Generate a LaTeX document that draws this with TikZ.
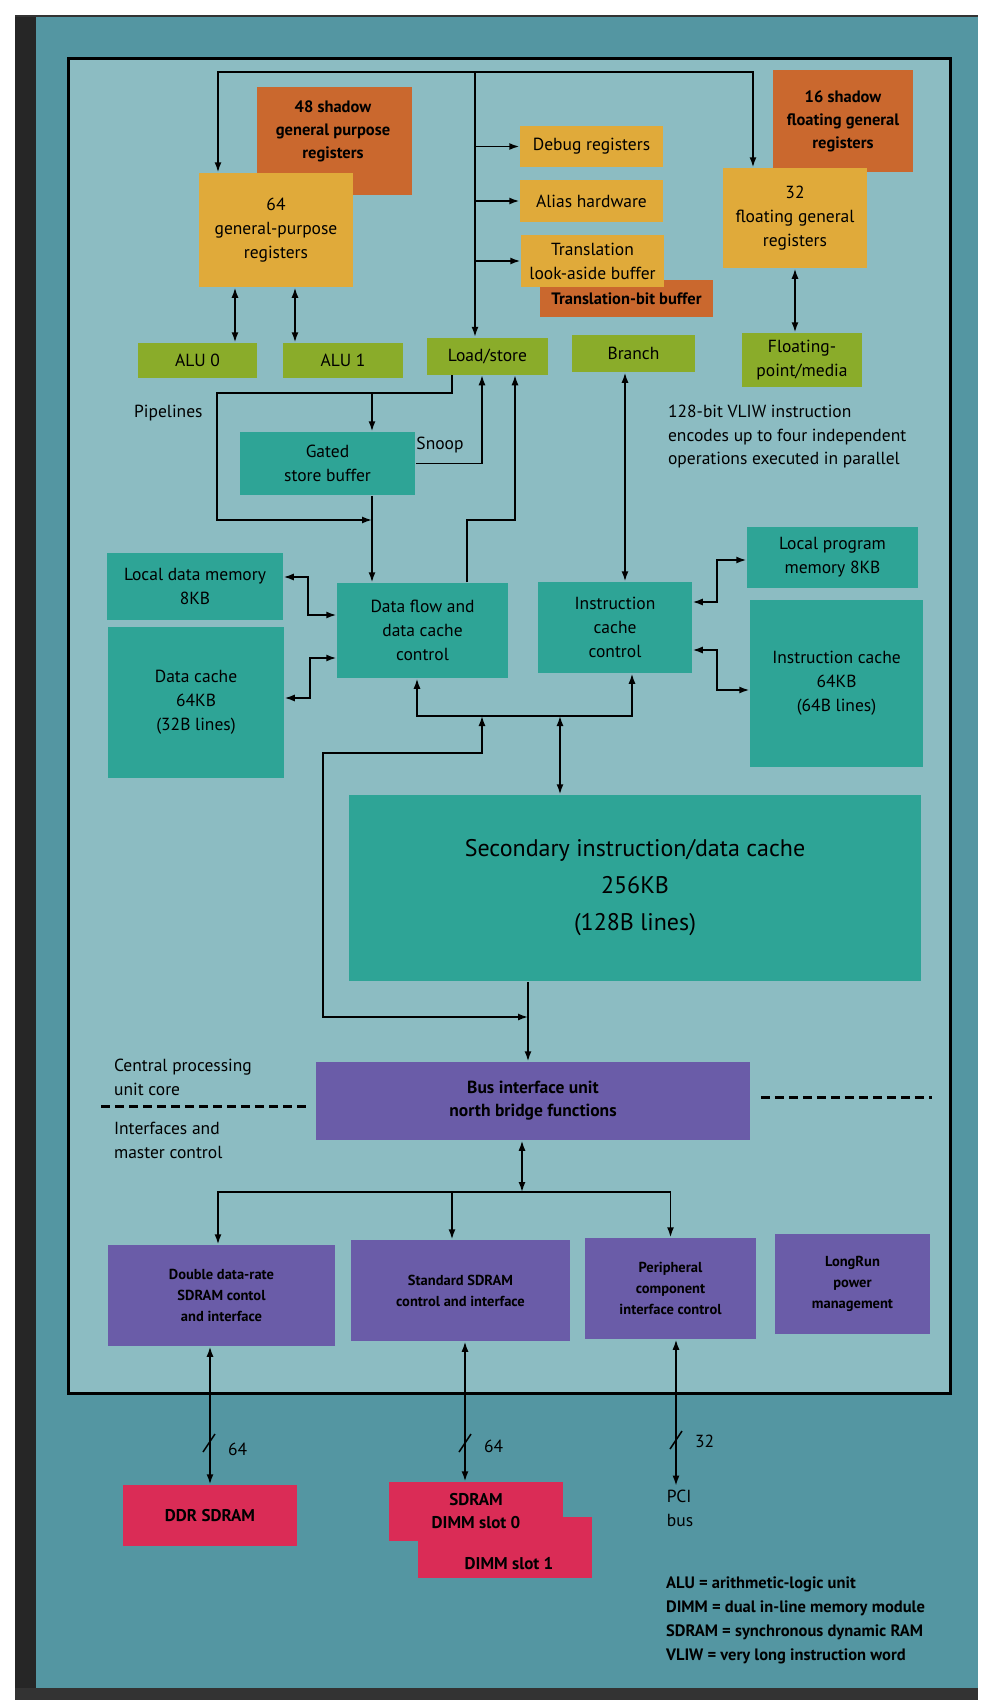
\documentclass[tikz,border=0pt]{standalone}
\usepackage{fontspec}
\setmainfont{PT Sans}
\usetikzlibrary{arrows.meta,calc}

\definecolor{pagebg}{RGB}{84,150,162}
\definecolor{corebg}{RGB}{140,188,194}
\definecolor{cachecol}{RGB}{46,164,150}
\definecolor{pipecol}{RGB}{138,172,42}
\definecolor{regcol}{RGB}{224,170,58}
\definecolor{shadowcol}{RGB}{202,104,46}
\definecolor{busifcol}{RGB}{106,92,168}
\definecolor{memcol}{RGB}{218,44,86}

\tikzset{
  sz/.style n args={2}{minimum width=#1pt, minimum height=#2pt},
  blk/.style={inner sep=0pt, align=center, font=\fontsize{17.5}{24}\selectfont},
  cachebox/.style={blk, fill=cachecol},
  pipebox/.style={blk, fill=pipecol},
  regbox/.style={blk, fill=regcol},
  shadowbox/.style={blk, fill=shadowcol, font=\fontsize{16.5}{23}\selectfont\bfseries},
  shadowtxt/.style={align=center, font=\fontsize{16.5}{23}\selectfont\bfseries},
  ifbox/.style={blk, fill=busifcol, font=\fontsize{14.5}{21}\selectfont\bfseries},
  membox/.style={blk, fill=memcol, font=\fontsize{17}{23}\selectfont\bfseries},
  memtxt/.style={font=\fontsize{17}{23}\selectfont\bfseries},
  note/.style={align=left, font=\fontsize{17.5}{24}\selectfont},
  divider/.style={line width=3pt, dash pattern=on 9pt off 5pt},
}

\begin{document}
\begin{tikzpicture}[x=1pt, y=-1pt, >={Latex[length=10pt,width=7pt]}, line width=1.5pt]
\useasboundingbox (0,0) rectangle (992,1700);

% page and core frame
\fill[white] (0,0) rectangle (992,1700);
\fill[pagebg] (15,15) rectangle (978,1700);
\fill[black!85] (15,15) rectangle (36,1700);
\fill[black!80] (15,1688) rectangle (978,1700);
\draw[black!80, line width=2pt] (15,16) -- (978,16);
\draw[line width=3pt, fill=corebg] (68,58) rectangle (950,1393);

% registers
\node[shadowbox, sz={155}{108}] (shgpr) at (334.5,141) {};
\node[shadowtxt] (shgprtxt) at (333,131) {48 shadow\\general purpose\\registers};
\node[regbox, sz={154}{114}] (gpr) at (276,230) {64\\general-purpose\\registers};
\node[shadowbox, sz={140}{102}] (shfgr) at (843,121) {16 shadow\\floating general\\registers};
\node[regbox, sz={144}{100}] (fgr) at (795,218) {32\\floating general\\registers};
\node[regbox, sz={143}{41}] (debug) at (591.5,146.5) {Debug registers};
\node[regbox, sz={143}{42}] (alias) at (591.5,201) {Alias hardware};
\node[shadowbox, sz={173}{37}, font=\fontsize{16.5}{22}\selectfont\bfseries] (tbb) at (626.5,298.5) {Translation-bit buffer};
\node[regbox, sz={143}{52}] (tlb) at (592.5,261) {Translation\\look-aside buffer};

% pipelines
\node[pipebox, sz={119}{35}] (alu0) at (197.5,360.5) {ALU 0};
\node[pipebox, sz={120}{35}] (alu1) at (343,360.5) {ALU 1};
\node[pipebox, sz={121}{37}] (ls) at (487.5,356) {Load/store};
\node[pipebox, sz={123}{37}] (branch) at (633.5,353.5) {Branch};
\node[pipebox, sz={120}{54}] (fpm) at (802,360) {Floating-\\point/media};

% caches
\node[cachebox, sz={175}{63}] (gsb) at (327.5,463.5) {Gated\\store buffer};
\node[cachebox, sz={171}{95}] (dflow) at (422.5,630.5) {Data flow and\\data cache\\control};
\node[cachebox, sz={154}{91}] (icc) at (615,627.5) {Instruction\\cache\\control};
\node[cachebox, sz={176}{67}] (ldm) at (195,586.5) {Local data memory\\8KB};
\node[cachebox, sz={176}{151}] (dc) at (196,702.5) {Data cache\\64KB\\(32B lines)};
\node[cachebox, sz={171}{61}] (lpm) at (832.5,557.5) {Local program\\memory 8KB};
\node[cachebox, sz={173}{167}] (ic) at (836.5,683.5) {Instruction cache\\64KB\\(64B lines)};
\node[cachebox, sz={572}{186}, font=\fontsize{24}{37}\selectfont] (l2) at (635,888) {Secondary instruction/data cache\\256KB\\(128B lines)};

% interfaces
\node[ifbox, sz={434}{78}, font=\fontsize{17.5}{23}\selectfont\bfseries] (biu) at (533,1101) {Bus interface unit\\north bridge functions};
\node[ifbox, sz={227}{101}] (ddrc) at (221.5,1295.5) {Double data-rate\\SDRAM contol\\and interface};
\node[ifbox, sz={219}{101}] (sdc) at (460.5,1290.5) {Standard SDRAM\\control and interface};
\node[ifbox, sz={171}{101}] (pcic) at (670.5,1288.5) {Peripheral\\component\\interface control};
\node[ifbox, sz={155}{100}] (lrun) at (852.5,1284) {LongRun\\power\\management};

% memory
\node[membox, sz={174}{61}] (ddr) at (210,1515.5) {DDR SDRAM};
\node[membox, sz={174}{61}] (dimm1) at (505,1547.5) {};
\node[membox, sz={174}{59}] (dimm0) at (476,1511.5) {SDRAM\\DIMM slot 0};
\node[memtxt] (dimm1txt) at (509,1564) {DIMM slot 1};

% top bus
\coordinate (bus) at (475,72);
\coordinate (busL) at (218,72);
\coordinate (busR) at (753,72);
\draw[<->] (busL |- gpr.north) -- (busL) -- (busR) -- (busR |- fgr.north);
\draw[->] (bus) -- (bus |- ls.north);
\draw[->] (bus |- debug.west) -- (debug.west);
\draw[->] (bus |- alias.west) -- (alias.west);
\draw[->] (bus |- tlb.west) -- (tlb.west);
\draw[<->] ([xshift=-41pt]gpr.south) -- ([xshift=-41pt]gpr.south |- alu0.north);
\draw[<->] ([xshift=19pt]gpr.south) -- ([xshift=19pt]gpr.south |- alu1.north);
\draw[<->] (fgr.south) -- (fgr.south |- fpm.north);

% load/store paths
\coordinate (plL) at (217,393);
\coordinate (plJ) at (372,520);
\draw[->] ([xshift=-35.5pt]ls.south) |- (plL) |- (plJ);
\draw[->] (plJ |- plL) -- (plJ |- gsb.north);
\draw[->] (plJ |- gsb.south) -- (plJ |- dflow.north);
\draw[->] (gsb.east) -| ([xshift=-5.5pt]ls.south);
\node[note] (snoop) at (440,445) {Snoop};
\coordinate (dfup) at (515,520);
\draw[->] ([xshift=44.5pt]dflow.north) |- (dfup) -- (dfup |- ls.south);
\draw[<->] ([xshift=-8.5pt]branch.south) -- ([xshift=-8.5pt]branch.south |- icc.north);

% local memories
\coordinate (dmx) at (308,596);
\draw[<->] ([yshift=9.5pt]ldm.east) -| (dmx) |- ([yshift=15.5pt]dflow.west);
\coordinate (dcx) at (310,678);
\draw[<->] ([yshift=-27.5pt]dflow.west) -| (dcx) |- ([yshift=4.5pt]dc.east);
\coordinate (pmx) at (717,580);
\draw[<->] ([yshift=25.5pt]icc.east) -| (pmx) |- ([yshift=-2.5pt]lpm.west);
\coordinate (icx) at (717,670);
\draw[<->] ([yshift=-22.5pt]icc.east) -| (icx) |- ([yshift=-6.5pt]ic.west);

% secondary cache
\coordinate (hb) at (560,716);
\draw[<->] ([xshift=-5.5pt]dflow.south) |- (hb) -| ([xshift=17pt]icc.south);
\draw[<->] (hb) -- (hb |- l2.north);
\coordinate (byT) at (482,753);
\coordinate (byB) at (323,1017);
\coordinate (l2out) at ([xshift=-107pt]l2.south);
\draw[<->] (byT |- hb) -- (byT) -| (byB) -- (byB -| l2out);
\draw[->] (l2out) -- (l2out |- biu.north);

% bus interface
\coordinate (iob) at (522,1192);
\draw[<->] (iob |- biu.south) -- (iob);
\draw[->] (iob) -| ([xshift=-3.5pt]ddrc.north);
\draw[->] (iob) -| ([xshift=-8.5pt]sdc.north);
\draw[->] (iob) -| (pcic.north);

\node[note] (pcibus) at (680,1508) {PCI\\bus};
\draw[<->] (ddr.north |- ddrc.south) -- (ddr.north);
\coordinate (sdw) at ([xshift=4.5pt]sdc.south);
\draw[<->] (sdw) -- (sdw |- dimm0.north);
\draw[<->] ([xshift=5.5pt]pcic.south) -- ([xshift=5.5pt]pcic.south |- pcibus.north);

\coordinate (bwA) at (209,1443);
\coordinate (bwB) at (465,1443);
\coordinate (bwC) at (676,1440);
\foreach \p in {bwA,bwB,bwC}
  \draw ([shift={(-6pt,-9pt)}]\p) -- ([shift={(6pt,9pt)}]\p);
\node[note, anchor=west] (wA) at ([shift={(15pt,-6pt)}]bwA) {64};
\node[note, anchor=west] (wB) at ([shift={(15pt,-3pt)}]bwB) {64};
\node[note, anchor=west] (wC) at ([shift={(15pt,-1pt)}]bwC) {32};

% core boundary
\coordinate (dvL) at (101,1106);
\coordinate (dvR) at (932,1097);
\draw[divider] (dvL) -- ([xshift=-9pt]dvL -| biu.west);
\draw[divider] ([xshift=10pt]dvR -| biu.east) -- (dvR);

\node[note, anchor=west] (pipes) at (130,413) {Pipelines};
\node[note, anchor=west] (cpucore) at (110,1077) {Central processing\\unit core};
\node[note, anchor=west] (ifctl) at (110,1140) {Interfaces and\\master control};
\node[note, anchor=west, font=\fontsize{17.5}{23.5}\selectfont] (vliw) at (664,437) {128-bit VLIW instruction\\encodes up to four independent\\operations executed in parallel};
\node[note, anchor=west, font=\fontsize{16.5}{24}\selectfont\bfseries] (legend) at (662,1620) {ALU = arithmetic-logic unit\\DIMM = dual in-line memory module\\SDRAM = synchronous dynamic RAM\\VLIW = very long instruction word};

\end{tikzpicture}
\end{document}
